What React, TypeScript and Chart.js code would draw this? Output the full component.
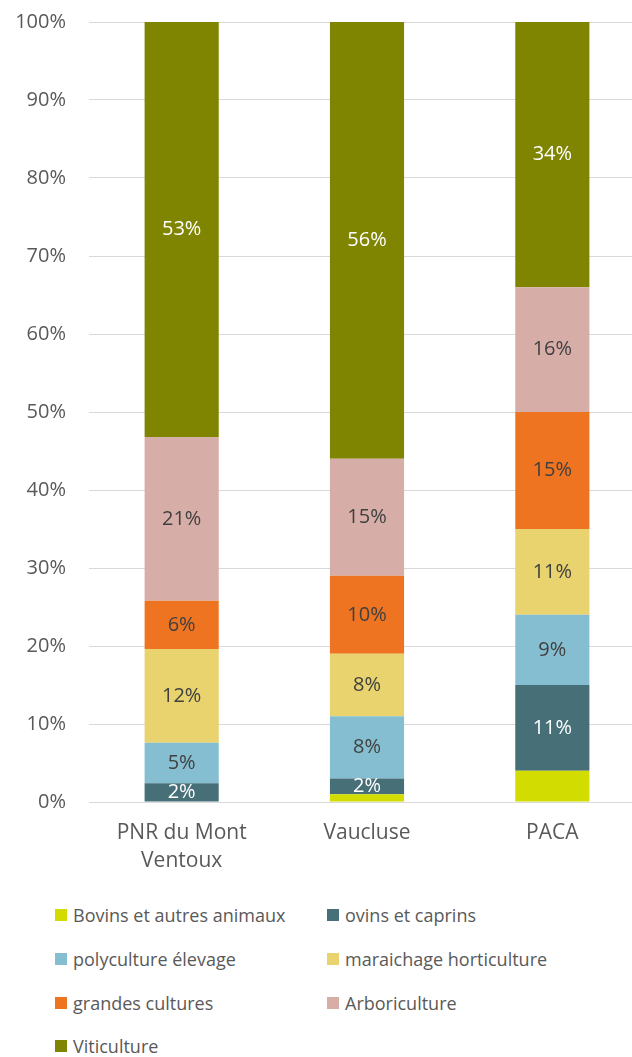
import React, { useEffect, useRef } from "react";
import { Chart, registerables } from "chart.js";

Chart.register(...registerables);

const categories: (string | string[])[] = [["PNR du Mont", "Ventoux"], "Vaucluse", "PACA"];
const seriesNames = [
  "Bovins et autres animaux",
  "ovins et caprins",
  "polyculture élevage",
  "maraichage horticulture",
  "grandes cultures",
  "Arboriculture",
  "Viticulture",
];
const bovins = [0, 1, 4];
const ovins = [2.4, 2, 11];
const polyculture = [5.2, 8, 9];
const maraichage = [12, 8, 11];
const grandesCultures = [6.2, 10, 15];
const arboriculture = [21, 15, 16];
const viticulture = [53.2, 56, 34];
const seriesValues = [bovins, ovins, polyculture, maraichage, grandesCultures, arboriculture, viticulture];
const yTickValues = [0, 10, 20, 30, 40, 50, 60, 70, 80, 90, 100];

const colors = ["#D2DC00", "#466F78", "#86BED1", "#E8D36E", "#EE7421", "#D7ADA7", "#7F8500"];
const labelColors: (string | null)[] = [null, "#FFFFFF", "#404040", "#404040", "#404040", "#404040", "#FFFFFF"];

const FONT = "'Open Sans'";
const AXIS_COLOR = "#595959";

const dataLabelPlugin = {
  id: "segmentLabels",
  afterDatasetsDraw(chart: any) {
    const ctx = chart.ctx;
    ctx.save();
    ctx.font = `20px ${FONT}`;
    ctx.textAlign = "center";
    ctx.textBaseline = "middle";
    chart.data.datasets.forEach((ds: any, i: number) => {
      const color = labelColors[i];
      if (!color) return;
      const meta = chart.getDatasetMeta(i);
      meta.data.forEach((bar: any, j: number) => {
        const v = ds.data[j];
        if (!v) return;
        const { x, y, base } = bar.getProps(["x", "y", "base"], true);
        ctx.fillStyle = color;
        ctx.fillText(`${Math.round(v)}%`, x, (y + base) / 2);
      });
    });
    ctx.restore();
  },
};

export default function App() {
  const canvasRef = useRef<HTMLCanvasElement | null>(null);

  useEffect(() => {
    if (!canvasRef.current) return;
    const chart = new Chart(canvasRef.current, {
      type: "bar",
      data: {
        labels: categories,
        datasets: seriesNames.map((name, i) => ({
          label: name,
          data: seriesValues[i],
          backgroundColor: colors[i],
          borderWidth: 0,
          barPercentage: 1,
          categoryPercentage: 0.4,
        })),
      },
      options: {
        responsive: false,
        animation: false,
        devicePixelRatio: 1,
        layout: { padding: { top: 22, left: 0, right: 0, bottom: 0 } },
        plugins: {
          legend: { display: false },
          tooltip: { enabled: false },
        },
        scales: {
          x: {
            stacked: true,
            grid: { display: false, drawTicks: false },
            border: { display: false },
            ticks: {
              color: AXIS_COLOR,
              font: { family: FONT, size: 21, lineHeight: 1.333 },
              padding: 17,
              maxRotation: 0,
              autoSkip: false,
            },
            afterFit(scale: any) {
              scale.height = 78;
            },
          },
          y: {
            stacked: true,
            min: 0,
            max: 100,
            afterBuildTicks(scale: any) {
              scale.ticks = yTickValues.map((v) => ({ value: v }));
            },
            grid: { color: "#D9D9D9", lineWidth: 1, drawTicks: false },
            border: { display: false },
            ticks: {
              color: AXIS_COLOR,
              font: { family: FONT, size: 20 },
              padding: 23,
              callback: (v: any) => `${v}%`,
            },
            afterFit(scale: any) {
              scale.width = 89;
              scale.paddingTop = 0;
              scale.paddingBottom = 0;
            },
          },
        },
      },
      plugins: [dataLabelPlugin],
    });
    return () => chart.destroy();
  }, []);

  const legendRows = [
    [0, 1],
    [2, 3],
    [4, 5],
    [6],
  ];
  const rowTops = [915, 959, 1003, 1046];
  const colLefts = [55, 327];

  return (
    <div
      style={{
        position: "fixed",
        left: 0,
        top: 0,
        width: 632,
        height: 1057,
        overflow: "hidden",
        background: "#FFFFFF",
      }}
    >
      <canvas ref={canvasRef} width={645} height={880} style={{ position: "absolute", left: 0, top: 0 }} />
      {legendRows.map((row, r) =>
        row.map((idx, c) => (
          <div
            key={idx}
            style={{
              position: "absolute",
              left: colLefts[c],
              top: rowTops[r] - 12,
              height: 24,
              display: "flex",
              alignItems: "center",
              fontFamily: FONT,
              fontSize: 18,
              color: AXIS_COLOR,
              whiteSpace: "nowrap",
            }}
          >
            <span
              style={{
                display: "inline-block",
                width: 12,
                height: 12,
                background: colors[idx],
                marginRight: 6,
              }}
            />
            <span>{seriesNames[idx]}</span>
          </div>
        ))
      )}
    </div>
  );
}
